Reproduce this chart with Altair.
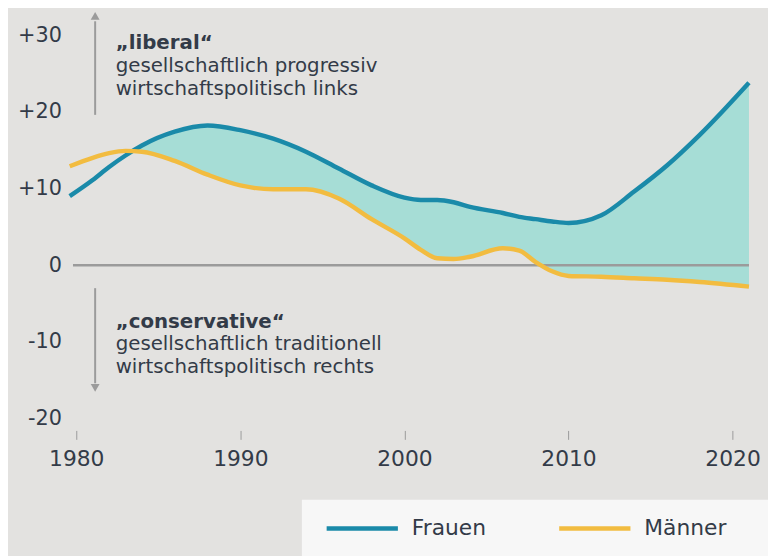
import altair as alt
import pandas as pd

# ---- data ----
YEARS = [1979.6, 1981, 1982, 1983, 1984, 1986, 1988, 1990, 1992, 1994, 1996, 1998,
         2000, 2001, 2002, 2003, 2004, 2006, 2007, 2008, 2009, 2010, 2012, 2014,
         2016, 2018, 2021]
FRAUEN = [9.0, 11.1, 12.8, 14.3, 15.6, 17.4, 18.2, 17.6, 16.5, 14.8, 12.6, 10.4,
          8.8, 8.5, 8.5, 8.2, 7.6, 6.8, 6.3, 6.0, 5.7, 5.5, 6.5, 9.6,
          13.0, 17.0, 23.8]
MAENNER = [12.9, 14.0, 14.6, 14.9, 14.8, 13.6, 11.8, 10.4, 9.9, 9.9, 8.7, 6.0,
           3.5, 2.0, 0.9, 0.8, 1.1, 2.2, 1.9, 0.4, -0.8, -1.4, -1.5, -1.7,
           -1.9, -2.2, -2.8]
SERIES = ["Frauen", "Männer"]
X_TICKS = [1980, 1990, 2000, 2010, 2020]
Y_TICKS = [-20, -10, 0, 10, 20, 30]

ANNOT_TOP = ["„liberal“", "gesellschaftlich progressiv", "wirtschaftspolitisch links"]
ANNOT_BOTTOM = ["„conservative“", "gesellschaftlich traditionell", "wirtschaftspolitisch rechts"]
ANNOT_TOP_Y = [28.9, 26.0, 22.9]
ANNOT_BOTTOM_Y = [-7.4, -10.3, -13.3]
ANNOT_X = 1982.4
ARROW_X = 1981.15
ARROW_UP = [19.6, 31.8]
ARROW_DOWN = [-3.0, -15.4]
ZERO_RANGE = [1979.8, 2021.0]

# ---- styling ----
BG = "#e3e2e0"
BLUE = "#1a8aa9"
YELLOW = "#f2bc40"
FILL = "#a6ddd6"
GREY = "#9b9b9b"
TEXT = "#333b48"
FONT = "DejaVu Sans"

wide = pd.DataFrame({"year": YEARS, "frauen": FRAUEN, "maenner": MAENNER})
wide["low"] = wide[["frauen", "maenner"]].min(axis=1)
long = pd.concat([
    pd.DataFrame({"year": YEARS, "value": FRAUEN, "series": SERIES[0]}),
    pd.DataFrame({"year": YEARS, "value": MAENNER, "series": SERIES[1]}),
])

xscale = alt.Scale(domain=[1979.337, 2021.677], nice=False, zero=False)
yscale = alt.Scale(domain=[-21.55, 33.16], nice=False, zero=False)
cscale = alt.Scale(domain=SERIES, range=[BLUE, YELLOW])

x_axis = alt.Axis(values=X_TICKS, format="d", domain=False, grid=False,
                  ticks=True, tickSize=9, tickColor=GREY, tickWidth=1,
                  labelFontSize=22, labelColor=TEXT, labelFont=FONT,
                  labelPadding=9, title=None)
y_axis = alt.Axis(values=Y_TICKS, domain=False, grid=False, ticks=False,
                  labelFontSize=21, labelColor=TEXT, labelFont=FONT,
                  labelPadding=4, title=None,
                  labelExpr="datum.value > 0 ? '+' + datum.value : '' + datum.value")

X = alt.X("year:Q", scale=xscale, axis=x_axis)

area = alt.Chart(wide).mark_area(color=FILL, interpolate="monotone", opacity=1).encode(
    x=X,
    y=alt.Y("frauen:Q", scale=yscale, axis=y_axis),
    y2="low:Q",
)

zero = alt.Chart(pd.DataFrame({"x": [ZERO_RANGE[0]], "x2": [ZERO_RANGE[1]], "y": [0]})).mark_rule(
    color=GREY, strokeWidth=2.5).encode(
    x=alt.X("x:Q", scale=xscale), x2="x2:Q", y=alt.Y("y:Q", scale=yscale))

color = alt.Color("series:N", scale=cscale, legend=None)

line_f = alt.Chart(long).transform_filter(alt.datum.series == SERIES[0]).mark_line(
    strokeWidth=4.5, interpolate="monotone").encode(
    x=X, y=alt.Y("value:Q", scale=yscale), color=color)
line_m = alt.Chart(long).transform_filter(alt.datum.series == SERIES[1]).mark_line(
    strokeWidth=4.5, interpolate="monotone").encode(
    x=X, y=alt.Y("value:Q", scale=yscale), color=color)

arrows = pd.DataFrame({"x": [ARROW_X, ARROW_X], "y": [ARROW_UP[0], ARROW_DOWN[0]],
                       "y2": [ARROW_UP[1], ARROW_DOWN[1]]})
arrow_lines = alt.Chart(arrows).mark_rule(color=GREY, strokeWidth=2).encode(
    x=alt.X("x:Q", scale=xscale), y=alt.Y("y:Q", scale=yscale), y2="y2:Q")
heads = pd.DataFrame({"x": [ARROW_X, ARROW_X], "y": [ARROW_UP[1] + 0.7, ARROW_DOWN[1] - 0.6],
                      "shape": ["triangle-up", "triangle-down"]})
arrow_heads = alt.Chart(heads).mark_point(filled=True, color=GREY, opacity=1, size=80).encode(
    x=alt.X("x:Q", scale=xscale), y=alt.Y("y:Q", scale=yscale),
    shape=alt.Shape("shape:N", scale=None))

ann = pd.DataFrame({
    "x": [ANNOT_X] * 6,
    "y": ANNOT_TOP_Y + ANNOT_BOTTOM_Y,
    "text": ANNOT_TOP + ANNOT_BOTTOM,
    "bold": [True, False, False, True, False, False],
})
ann_bold = alt.Chart(ann).transform_filter(alt.datum.bold).mark_text(
    align="left", baseline="middle", fontSize=20, fontWeight="bold", font=FONT, color=TEXT).encode(
    x=alt.X("x:Q", scale=xscale), y=alt.Y("y:Q", scale=yscale), text="text:N")
ann_norm = alt.Chart(ann).transform_filter(~alt.datum.bold).mark_text(
    align="left", baseline="middle", fontSize=20, font=FONT, color=TEXT).encode(
    x=alt.X("x:Q", scale=xscale), y=alt.Y("y:Q", scale=yscale), text="text:N")

# ---- legend (drawn as a box with a stroke and a label per series) ----
legend_box = alt.Chart(pd.DataFrame({"k": [0]})).mark_rect(color="#f7f7f7").encode(
    x=alt.value(239), x2=alt.value(720), y=alt.value(494), y2=alt.value(570))
legend_layers = [legend_box]
LEG_SYM_X = [264, 499]
for i, s in enumerate(SERIES):
    d = pd.DataFrame({"series": [s]})
    legend_layers.append(
        alt.Chart(d).mark_rule(strokeWidth=4.5).encode(
            x=alt.value(LEG_SYM_X[i]), x2=alt.value(LEG_SYM_X[i] + 72),
            y=alt.value(523), color=color))
    legend_layers.append(
        alt.Chart(d).mark_text(align="left", baseline="middle", fontSize=22,
                               font=FONT, color=TEXT).encode(
            x=alt.value(LEG_SYM_X[i] + 86), y=alt.value(523), text="series:N"))

chart = alt.layer(area, zero, line_f, line_m, arrow_lines, arrow_heads, ann_bold, ann_norm,
                  *legend_layers).properties(
    width=702, height=424,
    autosize=alt.AutoSizeParams(type="none"),
    padding={"left": 58, "top": 0, "right": 8, "bottom": 124},
    background=BG,
).configure_view(stroke=None)

chart.save("out.html", embed_options={"renderer": "svg", "actions": False})
